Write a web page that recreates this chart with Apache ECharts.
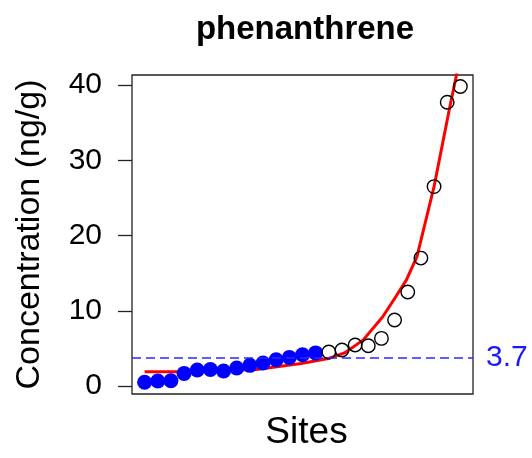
<!DOCTYPE html>
<html lang="en">
<head>
    <meta charset="UTF-8">
    <title>phenanthrene</title>
    <script src="https://cdn.jsdelivr.net/npm/echarts@6/dist/echarts.min.js"></script>
    <style>
        html, body { margin: 0; padding: 0; background: #fff; }
        #chart { width: 532px; height: 458px; }
    </style>
</head>
<body>
    <div id="chart"></div>
    <script>
        // sites below the threshold (filled blue) and above it (open circles)
        const lowSites = [1, 2, 3, 4, 5, 6, 7, 8, 9, 10, 11, 12, 13, 14];
        const lowValues = [0.5, 0.66, 0.7, 1.68, 2.13, 2.2, 2.0, 2.4, 2.75, 3.05, 3.5, 3.8, 4.15, 4.4];
        const highSites = [15, 16, 17, 18, 19, 20, 21, 22, 23, 24, 25];
        const highValues = [4.52, 4.78, 5.45, 5.36, 6.33, 8.77, 12.5, 17.0, 26.5, 37.7, 39.8];

        // red fitted curve
        const fitX = [1, 3.5, 9.5, 12.9, 15.06, 16.2, 17.6, 19.1, 20.1, 20.9, 21.7, 23.0, 24.2, 24.7, 25.0];
        const fitY = [1.9, 1.9, 2.2, 3.0, 3.7, 4.4, 6.1, 9.2, 11.9, 14.1, 17.2, 26.5, 37.1, 41.3, 44];

        const threshold = 3.7;
        const yTicks = [0, 10, 20, 30, 40];

        const chart = echarts.init(document.getElementById('chart'));
        const font = 'Liberation Sans, Arial, sans-serif';

        chart.setOption({
            animation: false,
            title: {
                text: 'phenanthrene',
                left: 300,
                top: 8,
                textAlign: 'center',
                textStyle: { fontFamily: font, fontSize: 33, fontWeight: 'bold', color: '#000' }
            },
            grid: {
                left: 132, right: 59, top: 75, bottom: 64,
                show: true, borderColor: '#222', borderWidth: 1.3, backgroundColor: 'transparent'
            },
            xAxis: {
                type: 'value',
                min: 0.04, max: 25.96,
                name: 'Sites',
                nameLocation: 'middle',
                nameGap: 20,
                nameTextStyle: { fontFamily: font, fontSize: 37, color: '#000', padding: [0, 0, 0, 8] },
                axisLine: { show: false },
                axisTick: { show: false },
                axisLabel: { show: false },
                splitLine: { show: false }
            },
            yAxis: {
                type: 'value',
                min: -1.06, max: 41.33,
                name: 'Concentration (ng/g)',
                nameLocation: 'middle',
                nameRotate: 90,
                nameGap: 85,
                nameTextStyle: { fontFamily: font, fontSize: 34, color: '#000' },
                axisLine: { show: false },
                axisTick: {
                    show: true, length: 14, customValues: yTicks,
                    lineStyle: { color: '#222', width: 1.3 }
                },
                axisLabel: {
                    customValues: yTicks, margin: 30,
                    fontFamily: font, fontSize: 30, color: '#000'
                },
                splitLine: { show: false }
            },
            series: [
                {
                    type: 'line',
                    data: fitX.map((x, i) => [x, fitY[i]]),
                    showSymbol: false,
                    smooth: false,
                    clip: true,
                    lineStyle: { color: '#ff0000', width: 3 },
                    z: 1,
                    markLine: {
                        silent: true,
                        symbol: 'none',
                        data: [{ yAxis: threshold }],
                        lineStyle: { color: '#2a2aff', width: 1.5, type: [9, 5] },
                        label: {
                            position: 'end', distance: 13, formatter: '3.7',
                            fontFamily: font, fontSize: 30, color: '#1a1aff'
                        }
                    }
                },
                {
                    type: 'scatter',
                    data: lowSites.map((s, i) => [s, lowValues[i]]),
                    symbol: 'circle',
                    symbolSize: 15,
                    itemStyle: { color: '#0000ff', opacity: 1 },
                    z: 3
                },
                {
                    type: 'scatter',
                    data: highSites.map((s, i) => [s, highValues[i]]),
                    symbol: 'circle',
                    symbolSize: 13.5,
                    itemStyle: { color: 'rgba(0,0,0,0)', borderColor: '#000', borderWidth: 1.4, opacity: 1 },
                    z: 3
                }
            ]
        });
    </script>
</body>
</html>
